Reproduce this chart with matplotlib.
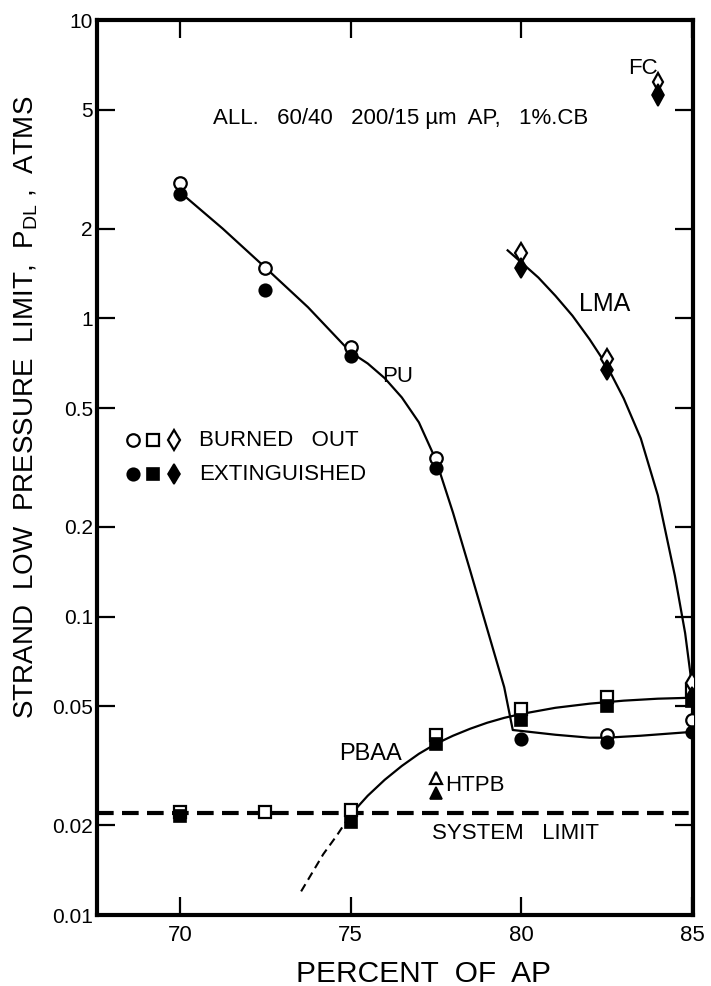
import numpy as np
import matplotlib
matplotlib.use("Agg")
import matplotlib.pyplot as plt

plt.rcParams['font.family'] = ['Liberation Sans', 'DejaVu Sans']

# ---- data ----
ap = [70, 72.5, 75, 77.5, 80, 82.5, 85]

# PU binder (circles)
pu_burned = [2.84, 1.48, 0.80, 0.34, np.nan, 0.040, 0.045]
pu_ext = [2.62, 1.24, 0.75, 0.316, 0.039, 0.038, 0.041]
pu_curve_x = [70, 71.25, 72.5, 73.75, 75, 75.5, 76, 76.5, 77, 77.5, 78, 78.5, 79, 79.5, 79.75,
              80, 81, 82, 82.5, 83.5, 85]
pu_curve_y = [2.65, 2.0, 1.48, 1.09, 0.77, 0.706, 0.63, 0.543, 0.448, 0.335, 0.223, 0.143, 0.091, 0.058, 0.0417,
              0.0414, 0.0402, 0.0393, 0.0393, 0.0399, 0.0411]

# PBAA binder (squares)
pbaa_burned = [0.0222, 0.0222, 0.0225, 0.040, 0.049, 0.054, 0.057]
pbaa_ext = [0.0215, np.nan, 0.0205, 0.0375, 0.045, 0.050, 0.052]
pbaa_curve_x = [75, 75.5, 76, 76.5, 77, 77.5, 78, 78.5, 79, 79.5, 80, 81, 82, 83, 84, 85]
pbaa_curve_y = [0.0217, 0.0251, 0.0284, 0.0316, 0.0347, 0.0375, 0.0399, 0.0421, 0.0441, 0.0458,
                0.0472, 0.0495, 0.0511, 0.0523, 0.0531, 0.0535]
pbaa_ext_x = [73.55, 74.2, 74.6, 75]
pbaa_ext_y = [0.012, 0.016, 0.0185, 0.0217]

# LMA binder (diamonds)
lma_x = [80, 82.5, 85]
lma_burned = [1.65, 0.73, 0.060]
lma_ext = [1.48, 0.67, 0.054]
lma_curve_x = [79.6, 80, 80.5, 81, 81.5, 82, 82.5, 83, 83.5, 84, 84.5, 84.8, 85]
lma_curve_y = [1.69, 1.54, 1.37, 1.19, 1.02, 0.851, 0.696, 0.539, 0.396, 0.255, 0.137, 0.088, 0.0586]

# FC and HTPB single points
fc_x = [84]
fc_burned = [6.2]
fc_ext = [5.6]
htpb_x = [77.5]
htpb_burned = [0.0288]
htpb_ext = [0.0257]

system_limit = 0.022

yticks = [0.01, 0.02, 0.05, 0.1, 0.2, 0.5, 1, 2, 5, 10]
ytick_labels = ['0.01', '0.02', '0.05', '0.1', '0.2', '0.5', '1', '2', '5', '10']
xticks = [70, 75, 80, 85]

# ---- figure ----
fig = plt.figure(figsize=(7.11, 9.86), dpi=100)
ax = fig.add_axes([0.1364, 0.072, 0.8383, 0.9077])
ax.set_yscale('log')
ax.set_xlim(67.57, 85.03)
ax.set_ylim(0.01, 10)

# curves
ax.plot(pu_curve_x, pu_curve_y, color='black', lw=1.6, zorder=2)
ax.plot(pbaa_curve_x, pbaa_curve_y, color='black', lw=1.6, zorder=2)
ax.plot(pbaa_ext_x, pbaa_ext_y, color='black', lw=1.5, ls=(0, (4, 2.5)), zorder=2)
ax.plot(lma_curve_x, lma_curve_y, color='black', lw=1.6, zorder=2)
ax.axhline(system_limit, color='black', lw=3, ls=(0, (4, 2)), zorder=2)

# markers
ms = 9
open_kw = dict(ls='none', mfc='white', mec='black', mew=1.6, zorder=3)
fill_kw = dict(ls='none', mfc='black', mec='black', mew=1.2, zorder=4)
ax.plot(ap, pu_burned, 'o', ms=ms, **open_kw)
ax.plot(ap, pu_ext, 'o', ms=ms, **fill_kw)
ax.plot(ap, pbaa_burned, 's', ms=ms - 1, **open_kw)
ax.plot(ap, pbaa_ext, 's', ms=ms - 1, **fill_kw)
ax.plot(lma_x, lma_burned, 'd', ms=ms + 1, **open_kw)
ax.plot(lma_x, lma_ext, 'd', ms=ms + 1, **fill_kw)
ax.plot(fc_x, fc_burned, 'd', ms=ms, **open_kw)
ax.plot(fc_x, fc_ext, 'd', ms=ms + 2, **fill_kw)
ax.plot(htpb_x, htpb_burned, '^', ms=ms - 1, **open_kw)
ax.plot(htpb_x, htpb_ext, '^', ms=ms - 1, **fill_kw)

# key
key_y = [0.39, 0.30]
for sym, dx in zip(['o', 's', 'd'], [68.62, 69.22, 69.82]):
    ax.plot([dx], [key_y[0]], sym, ms=ms if sym != 'd' else ms + 1, **open_kw)
    ax.plot([dx], [key_y[1]], sym, ms=ms if sym != 'd' else ms + 1, **fill_kw)
ax.text(70.55, key_y[0], 'BURNED   OUT', fontsize=16, va='center', ha='left')
ax.text(70.55, key_y[1], 'EXTINGUISHED', fontsize=16, va='center', ha='left')

# annotations
ax.text(76.47, 4.69, 'ALL.   60/40   200/15 \u00b5m  AP,   1%.CB', fontsize=16, ha='center', va='center')
ax.text(83.55, 6.9, 'FC', fontsize=16, ha='center', va='center')
ax.text(82.45, 1.12, 'LMA', fontsize=18, ha='center', va='center')
ax.text(76.38, 0.64, 'PU', fontsize=16, ha='center', va='center')
ax.text(75.57, 0.0347, 'PBAA', fontsize=17, ha='center', va='center')
ax.text(77.76, 0.0271, 'HTPB', fontsize=16, ha='left', va='center')
ax.text(79.82, 0.0187, 'SYSTEM   LIMIT', fontsize=16, ha='center', va='center')

# axes styling
ax.set_yticks(yticks)
ax.set_yticklabels(ytick_labels)
ax.yaxis.set_minor_locator(matplotlib.ticker.NullLocator())
ax.set_xticks(xticks)
ax.tick_params(which='major', direction='in', length=13, width=1.6,
               top=True, right=True, labelsize=15)
ax.tick_params(axis='x', labelsize=16, pad=7)
ax.tick_params(axis='y', pad=3)
for s in ax.spines.values():
    s.set_linewidth(3)

ax.set_xlabel('PERCENT  OF  AP', fontsize=21.5)
ax.xaxis.set_label_coords(0.547, -0.05)
ax.set_ylabel('STRAND  LOW  PRESSURE  LIMIT,  P$_{\\mathregular{DL}}$ ,  ATMS', fontsize=20)
ax.yaxis.set_label_coords(-0.095, 0.567)

fig.savefig('out.png', dpi=100)
